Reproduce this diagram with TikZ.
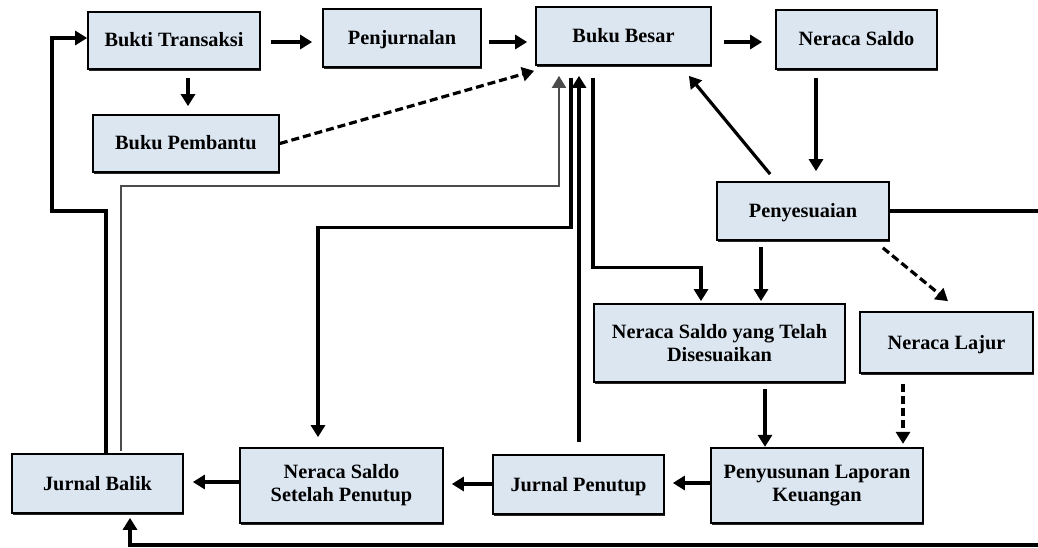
\documentclass[tikz,border=0pt]{standalone}
\usepackage{fontspec}
\setmainfont{Liberation Serif}
\usetikzlibrary{arrows.meta,calc,shadows}
\definecolor{boxfill}{RGB}{220,230,241}
\tikzset{
  box/.style={draw=black, line width=1.7pt, fill=boxfill, align=center, inner sep=0pt,
    font=\fontsize{20.3}{23}\selectfont\bfseries,
    drop shadow={shadow xshift=1pt, shadow yshift=-1.8pt, fill=black, opacity=0.85}},
  one/.style={text height=15pt, text depth=2pt},
  arr/.style={line width=3.2pt, -{Triangle[length=12pt,width=14pt]}},
  dasharr/.style={arr, dash pattern=on 8pt off 4pt},
  grayarr/.style={line width=2pt, draw=black!70, -{Triangle[length=12pt,width=14pt]}, color=black!70},
}
\begin{document}
\begin{tikzpicture}[x=1pt,y=-1pt]
\useasboundingbox (0,0) rectangle (1038,548);
\clip (0,0) rectangle (1038,548);
% nodes
\node[box, one, minimum width=172pt, minimum height=57pt] (bt) at (174,40.5) {Bukti Transaksi};
\node[box, one, minimum width=186pt, minimum height=57pt] (bp) at (186,143.5) {Buku Pembantu};
\node[box, one, minimum width=158pt, minimum height=58pt] (pj) at (402,38) {Penjurnalan};
\node[box, one, minimum width=175pt, minimum height=58pt] (bb) at (623.5,36) {Buku Besar};
\node[box, one, minimum width=161pt, minimum height=59pt] (ns) at (856.5,39.5) {Neraca Saldo};
\node[box, one, minimum width=172pt, minimum height=58pt] (py) at (803,211) {Penyesuaian};
\node[box, minimum width=251pt, minimum height=78pt] (nstd) at (719.5,343) {Neraca Saldo yang Telah\\Disesuaikan};
\node[box, one, minimum width=173pt, minimum height=61pt] (nl) at (946.5,342.5) {Neraca Lajur};
\node[box, one, minimum width=171pt, minimum height=59pt] (jb) at (97.5,483.5) {Jurnal Balik};
\node[box, minimum width=203pt, minimum height=75pt] (nssp) at (341.5,485.5) {Neraca Saldo\\Setelah Penutup};
\node[box, one, minimum width=171pt, minimum height=59pt] (jp) at (578.5,484.5) {Jurnal Penutup};
\node[box, minimum width=212pt, minimum height=75pt] (plk) at (817,485.5) {Penyusunan Laporan\\Keuangan};
% helper coordinates
\coordinate (re) at (1045,545);
\coordinate (bl) at (130,545);
\coordinate (k1) at (52,211);
% connectors
\draw[arr] ($(bt.east)+(10,1.5)$) -- ($(bt.east -| pj.west)+(-10,1.5)$);
\draw[arr] ($(pj.east)+(7,4)$) -- ($(pj.east -| bb.west)+(-8,4)$);
\draw[arr] ($(bb.east)+(12,6)$) -- ($(bb.east -| ns.west)+(-13,6)$);
\draw[arr] ($(bt.south -| bp.north)+(2,8)$) -- ($(bp.north)+(2,-8)$);
\draw[dasharr] (bp.east) -- ($(bb.south west)+(-1,5)$);
\draw[arr] ($(ns.south)+(-40.5,8)$) -- ($(ns.south |- py.north)+(-40.5,-10)$);
\draw[arr] ($(py.north west)+(54,-7)$) -- ($(bb.south east)+(-23,10)$);
\draw[arr] (py.east) -| (re) -- (bl) -- ($(bl |- jb.south)+(0,4)$);
\draw[arr] ($(jb.north)+(8.5,0)$) |- (k1) |- ($(bt.west)+(0,-2.5)$);
\draw[grayarr] ($(jb.north)+(23.5,-2)$) |- ($(bb.south)+(-64.5,120)$) -- ($(bb.south)+(-64.5,10)$);
\draw[arr] ($(bb.south)+(-52.5,12)$) |- ($(nssp.north)+(-23.5,-220)$) -- ($(nssp.north)+(-23.5,-10)$);
\draw[arr] ($(jp.north)+(0.5,-12)$) -- ($(bb.south)+(-44.5,10)$);
\draw[arr] ($(bb.south)+(-30.5,12)$) |- ($(nstd.north)+(-18.5,-36)$) -- ($(nstd.north)+(-18.5,-2)$);
\draw[arr] ($(py.south)+(-42,6)$) -- ($(py.south |- nstd.north)+(-42,-2)$);
\draw[dasharr] ($(py.south east)+(-7,7)$) -- ($(nl.north)+(1.5,-10)$);
\draw[arr] ($(nstd.south)+(45.5,6)$) -- ($(nstd.south -| plk.north)+(-52,64)$);
\draw[dasharr] ($(nl.south)+(-43.5,10)$) -- ($(nl.south)+(-43.5,70)$);
\draw[arr] ($(plk.west)+(0,-2.5)$) -- ($(jp.east)+(8,-1.5)$);
\draw[arr] ($(jp.west)+(0,-0.5)$) -- ($(nssp.east)+(8,-1.5)$);
\draw[arr] ($(nssp.west)+(0,-3.5)$) -- ($(jb.east)+(9,-1.5)$);
\end{tikzpicture}
\end{document}
